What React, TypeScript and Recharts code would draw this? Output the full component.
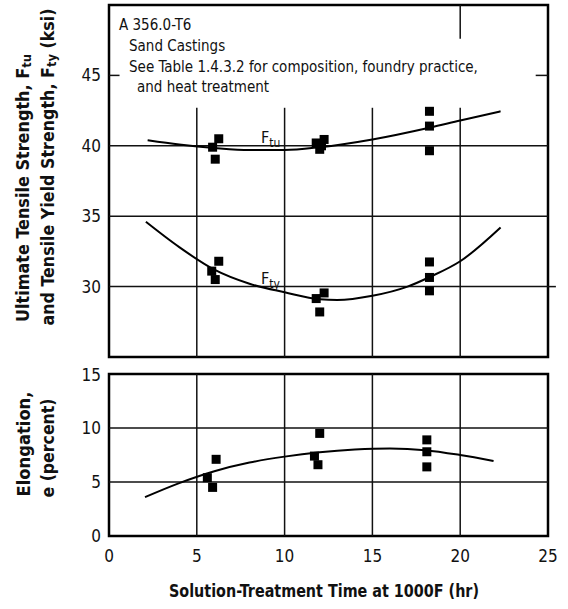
import React from 'react';
import {
  ComposedChart,
  Line,
  Scatter,
  XAxis,
  YAxis,
  ReferenceLine,
  ReferenceArea,
  ReferenceDot,
  Label,
} from 'recharts';

const FONT = "'Liberation Sans Narrow', 'DejaVu Sans Condensed', 'Arial Narrow', sans-serif";
const INK = '#111';

// measured test points, tensile (ksi)
const ftuX = [5.9, 6.05, 6.25, 11.8, 12.0, 12.1, 12.25, 18.25, 18.25, 18.25];
const ftuY = [39.9, 39.05, 40.5, 40.2, 39.75, 40.0, 40.45, 42.45, 41.4, 39.65];
const ftyX = [5.85, 6.05, 6.25, 11.8, 12.0, 12.25, 18.25, 18.25, 18.25];
const ftyY = [31.1, 30.5, 31.8, 29.15, 28.2, 29.55, 31.75, 30.65, 29.7];

// fitted curves
const ftuCurveX = [2.2, 4, 6, 8, 10, 12, 15, 18.3, 20, 22.3];
const ftuCurveY = [40.4, 40.1, 39.85, 39.7, 39.7, 39.9, 40.45, 41.3, 41.8, 42.45];
const ftyCurveX = [2.1, 4, 6, 8, 10, 12, 13, 15, 17, 18.3, 20, 22.3];
const ftyCurveY = [34.6, 32.8, 31.2, 30.2, 29.6, 29.1, 29.05, 29.35, 30.0, 30.7, 31.8, 34.2];

// elongation (percent)
const elX = [5.6, 5.9, 6.1, 11.7, 11.9, 12.0, 18.1, 18.1, 18.1];
const elY = [5.4, 4.5, 7.1, 7.4, 6.6, 9.5, 8.9, 7.8, 6.4];
const elCurveX = [2.05, 4, 6, 8, 10, 12, 14, 16, 18, 20, 21.9];
const elCurveY = [3.6, 4.9, 6.0, 6.8, 7.35, 7.75, 8.0, 8.1, 7.95, 7.5, 6.95];

const xTicks = [0, 5, 10, 15, 20, 25];
const topTicks = [25, 30, 35, 40, 45];
const bottomTicks = [0, 5, 10, 15];

const notes = [
  'A 356.0-T6',
  'Sand Castings',
  'See Table 1.4.3.2 for composition, foundry practice,',
  'and heat treatment',
];

const zip = (xs: number[], ys: number[]) => xs.map((x, i) => ({ x, y: ys[i] }));

const Square = (props: any) => {
  const { cx, cy } = props;
  if (cx == null || cy == null) return null;
  return <rect x={cx - 4.5} y={cy - 4.5} width={9} height={9} fill="#000" />;
};

const tickStyle = { fontSize: 17, fill: INK, fontFamily: FONT };
const gridStroke = { stroke: '#111', strokeWidth: 1.5 };

const titleText = {
  textAnchor: 'middle' as const,
  fontFamily: FONT,
  fontWeight: 700,
  fontSize: 18,
  fill: INK,
  lengthAdjust: 'spacingAndGlyphs' as const,
};

function TopYTitle() {
  const c1 = 188;
  const c2 = 167;
  return (
    <g>
      <text x={22} y={c1} transform={`rotate(-90, 22, ${c1})`} dominantBaseline="central" textLength={268} {...titleText}>
        Ultimate Tensile Strength, F
        <tspan dy={4} fontSize={13} fill={INK}>tu</tspan>
      </text>
      <text x={47} y={c2} transform={`rotate(-90, 47, ${c2})`} dominantBaseline="central" textLength={317} {...titleText}>
        and Tensile Yield Strength, F
        <tspan dy={4} fontSize={13} fill={INK}>ty</tspan>
        <tspan dy={-4} fill={INK}> (ksi)</tspan>
      </text>
    </g>
  );
}

function BottomYTitle(props: any) {
  const vb = props.viewBox || {};
  const off = vb.height ? vb.y : 9;
  const c1 = off + 70;
  const c2 = off + 74;
  return (
    <g>
      <text x={23} y={c1} transform={`rotate(-90, 23, ${c1})`} dominantBaseline="central" textLength={105} {...titleText}>
        Elongation,
      </text>
      <text x={47} y={c2} transform={`rotate(-90, 47, ${c2})`} dominantBaseline="central" textLength={99} {...titleText}>
        e (percent)
      </text>
    </g>
  );
}

function NotesBlock(props: any) {
  const vb = props.viewBox || {};
  const x0 = vb.x ?? 119;
  const y0 = vb.y ?? 30;
  const indents = [0, 10, 10, 18];
  return (
    <g>
      {notes.map((t, i) => (
        <text
          key={t}
          x={x0 + indents[i]}
          y={y0 + i * 20.7}
          fontFamily={FONT}
          fontSize={15}
          fill={INK}
        >
          {t}
        </text>
      ))}
    </g>
  );
}

const subLabel = (main: string, sub: string) => (props: any) => {
  const vb = props.viewBox || {};
  return (
    <text x={vb.x} y={vb.y} fontFamily={FONT} fontSize={16} fill={INK}>
      {main}
      <tspan dy={4} fontSize={12} fill={INK}>{sub}</tspan>
    </text>
  );
};

export default function App() {
  const vertical = [5, 10, 15];
  return (
    <div style={{ position: 'absolute', top: 0, left: 0, width: 568, height: 609, background: '#fff' }}>
      <ComposedChart width={568} height={365} margin={{ top: 5, right: 20, bottom: 8, left: 0 }}>
        <XAxis type="number" dataKey="x" domain={[0, 25]} ticks={xTicks} hide />
        <YAxis
          type="number"
          domain={[25, 50]}
          ticks={topTicks}
          width={109}
          axisLine={false}
          tickLine={false}
          tickSize={0}
          tickMargin={8}
          tick={tickStyle}
          allowDataOverflow
        >
          <Label content={TopYTitle} />
        </YAxis>

        {[40, 35, 30].map((v) => (
          <ReferenceLine key={v} y={v} {...gridStroke} />
        ))}
        {vertical.map((v) => (
          <ReferenceLine key={v} segment={[{ x: v, y: 25 }, { x: v, y: 42.7 }]} {...gridStroke} />
        ))}
        <ReferenceLine segment={[{ x: 20, y: 25 }, { x: 20, y: 42.7 }]} {...gridStroke} />
        <ReferenceLine segment={[{ x: 20, y: 47.6 }, { x: 20, y: 50 }]} {...gridStroke} />
        <ReferenceLine segment={[{ x: 0, y: 45 }, { x: 0.6, y: 45 }]} {...gridStroke} />
        <ReferenceLine segment={[{ x: 24.3, y: 45 }, { x: 25, y: 45 }]} {...gridStroke} />
        <ReferenceLine segment={[{ x: 25, y: 30 }, { x: 25.45, y: 30 }]} ifOverflow="visible" {...gridStroke} />

        <ReferenceArea x1={0} x2={25} y1={25} y2={50} fill="none" stroke="#000" strokeWidth={2.5} />

        <Line data={zip(ftuCurveX, ftuCurveY)} dataKey="y" type="monotone" stroke="#000" strokeWidth={2} dot={false} isAnimationActive={false} />
        <Line data={zip(ftyCurveX, ftyCurveY)} dataKey="y" type="monotone" stroke="#000" strokeWidth={2} dot={false} isAnimationActive={false} />
        <Scatter data={zip(ftuX, ftuY)} dataKey="y" shape={Square} isAnimationActive={false} />
        <Scatter data={zip(ftyX, ftyY)} dataKey="y" shape={Square} isAnimationActive={false} />

        <ReferenceDot x={0.57} y={48.2} r={0} fill="none" stroke="none" label={<NotesBlock />} />
        <ReferenceDot x={8.65} y={40.2} r={0} fill="none" stroke="none" label={subLabel('F', 'tu')} />
        <ReferenceDot x={8.65} y={30.15} r={0} fill="none" stroke="none" label={subLabel('F', 'ty')} />
      </ComposedChart>

      <ComposedChart width={568} height={244} margin={{ top: 9, right: 20, bottom: 0, left: 0 }}>
        <XAxis
          type="number"
          dataKey="x"
          domain={[0, 25]}
          ticks={xTicks}
          height={73}
          axisLine={false}
          tickLine={false}
          tickSize={0}
          tickMargin={14}
          tick={tickStyle}
        >
          <Label
            content={() => (
              <text x={324} y={590 - 365} dominantBaseline="central" textLength={310} {...titleText}>
                Solution-Treatment Time at 1000F (hr)
              </text>
            )}
          />
        </XAxis>
        <YAxis
          type="number"
          domain={[0, 15]}
          ticks={bottomTicks}
          width={109}
          axisLine={false}
          tickLine={false}
          tickSize={0}
          tickMargin={8}
          tick={tickStyle}
        >
          <Label content={BottomYTitle} />
        </YAxis>

        {[5, 10].map((v) => (
          <ReferenceLine key={v} y={v} {...gridStroke} />
        ))}
        {[5, 10, 15, 20].map((v) => (
          <ReferenceLine key={v} x={v} {...gridStroke} />
        ))}
        <ReferenceArea x1={0} x2={25} y1={0} y2={15} fill="none" stroke="#000" strokeWidth={2.5} />

        <Line data={zip(elCurveX, elCurveY)} dataKey="y" type="monotone" stroke="#000" strokeWidth={2} dot={false} isAnimationActive={false} />
        <Scatter data={zip(elX, elY)} dataKey="y" shape={Square} isAnimationActive={false} />
      </ComposedChart>
    </div>
  );
}
